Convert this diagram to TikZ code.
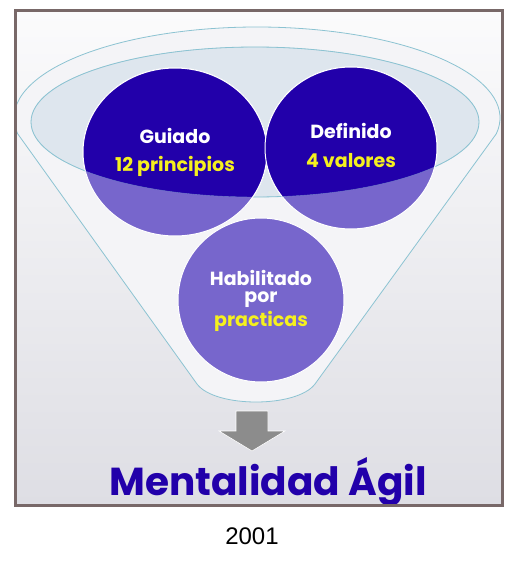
\documentclass[tikz,border=0pt]{standalone}
\usepackage{fontspec}
\setmainfont{Poppins}
\newfontfamily\yearfont{Liberation Sans}
\usetikzlibrary{positioning,calc}
\definecolor{AGIL-DARK}{RGB}{34, 0, 170}
\definecolor{AGIL-LIGHT}{RGB}{119, 102, 204}
\definecolor{AGIL-YELLOW}{RGB}{245, 240, 30}
\definecolor{FUNNEL-LINE}{RGB}{140, 195, 210}
\definecolor{FUNNEL-BODY}{RGB}{244, 244, 247}
\definecolor{FUNNEL-RIM}{RGB}{222, 230, 238}
\definecolor{FRAME-GRAY}{RGB}{120, 104, 104}
\definecolor{ARROW-GRAY}{RGB}{140, 140, 140}
\definecolor{BG-TOP}{RGB}{251, 251, 252}
\definecolor{BG-BOT}{RGB}{222, 222, 228}

\tikzset{
  bubble/.style={draw=white, line width=1pt},
  word/.style={text=white, font=\bfseries\fontsize{19}{21}\selectfont, inner sep=0pt},
  keyword/.style={word, text=AGIL-YELLOW}
}

\begin{document}
\begin{tikzpicture}[x=1pt, y=-1pt]
  \useasboundingbox (0,0) rectangle (518,565);

  % Background of the slide
  \shade[top color=BG-TOP, bottom color=BG-BOT] (15.5,10.5) rectangle (502.5,505.5);

  \begin{scope}
    \clip (17,12) rectangle (501,504);
    % Funnel body
    \fill[FUNNEL-BODY] (257,118) ellipse (243 and 91);
    \filldraw[fill=FUNNEL-BODY, draw=FUNNEL-LINE, thick] (17.7,133.8) -- (197,384)
      .. controls (215,408) and (297,408) .. (315,384) -- (496.3,133.8)
      arc[start angle=10, end angle=-190, x radius=243, y radius=91];
    % Rim of the funnel
    \filldraw[fill=FUNNEL-RIM, draw=FUNNEL-LINE, thick] (255,122) ellipse (224 and 75);
  \end{scope}

  % Circles (lower part, seen through the funnel)
  \filldraw[AGIL-LIGHT, bubble] (175,152) ellipse (92 and 84);
  \filldraw[AGIL-LIGHT, bubble] (351,148) ellipse (86 and 81);

  % Circles (upper part, inside the rim)
  \begin{scope}
    \clip (255,122) ellipse (224 and 75);
    \filldraw[AGIL-DARK, bubble] (175,152) ellipse (92 and 84);
    \filldraw[AGIL-DARK, bubble] (351,148) ellipse (86 and 81);
  \end{scope}
  \draw[FUNNEL-LINE, opacity=0.5] (255,122) ellipse (224 and 75);

  % Bottom circle
  \filldraw[AGIL-LIGHT, bubble] (261,300) ellipse (83 and 82);

  % Labels
  \node[word] (guiado) at (175,136) {Guiado};
  \node[keyword] (principios) at (175,166) {12 principios};
  \node[word] (definido) at (351,131) {Definido};
  \node[keyword] (valores) at (351,161) {4 valores};
  \node[word] (habilitado) at (261,278) {Habilitado};
  \node[word] (por) at (261,300) {por};
  \node[keyword] (practicas) at (261,321) {practicas};

  % Arrow to the result
  \filldraw[ARROW-GRAY, draw=white, line width=0.6pt] (236,411) -- (268,411) -- (268,431)
    -- (285,431) -- (252,451) -- (219,431) -- (236,431) -- cycle;

  \node[text=AGIL-DARK, font=\bfseries\fontsize{39}{43}\selectfont, anchor=base]
    (mentalidad) at (268,495) {Mentalidad Ágil};

  % Frame
  \draw[FRAME-GRAY, line width=3pt] (15.5,10.5) rectangle (502.5,505.5);

  \node[font=\yearfont\fontsize{24}{28}\selectfont] (year) at (252,536) {2001};
\end{tikzpicture}
\end{document}
